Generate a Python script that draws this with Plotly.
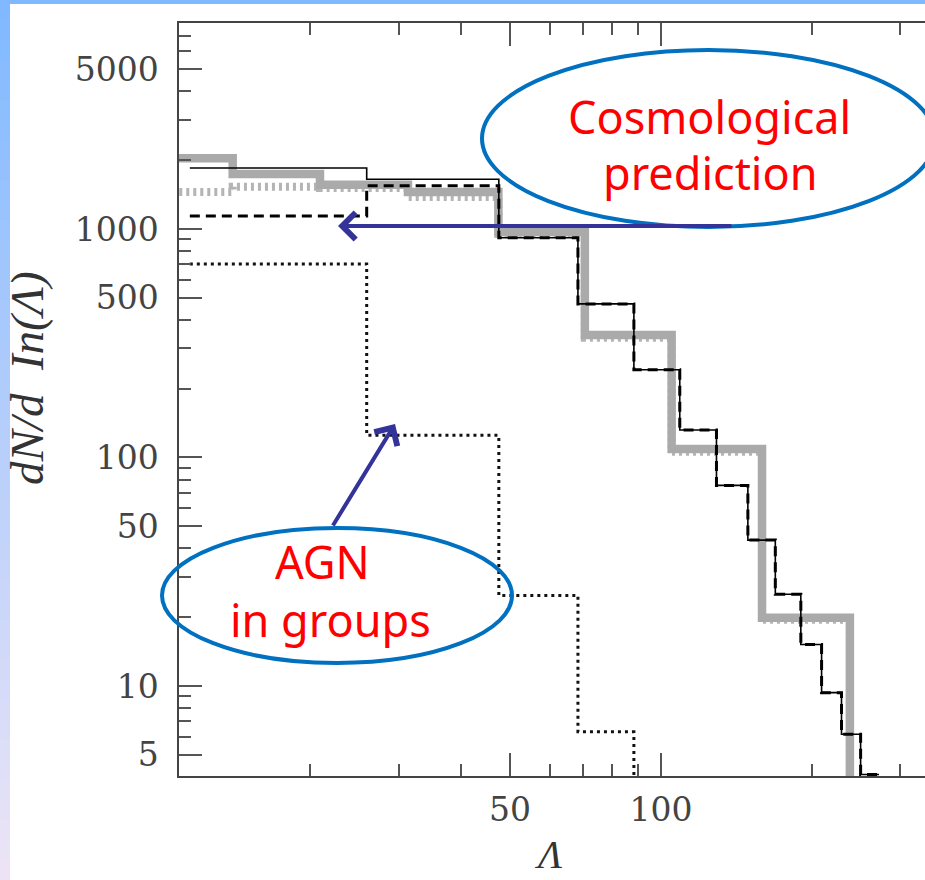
import plotly.graph_objects as go

# ---------------- data ----------------
black_edges = [11.5, 25.9, 47.5, 68.3, 88.3, 109, 129, 149, 169, 190, 209, 229, 250, 272]
solid_vals = [1850, 1650, 915, 470, 242, 132, 75.5, 43.5, 25.2, 15.2, 9.35, 6.15, 4.1]
dashed_vals = [1140, 1545, 915, 470, 242, 132, 75.5, 43.5, 25.2, 15.2, 9.35, 6.15, 4.1]

agn_edges = [11.5, 25.9, 47.5, 68.3, 88.3]
agn_vals = [703, 125, 24.9, 6.3]

gray_edges = [9.33, 14.0, 20.9, 31.3, 47.4, 70.5, 105, 159, 238]
gray_vals = [2040, 1740, 1560, 1450, 970, 344, 109, 19.9]
graydot_vals = [1450, 1530, 1510, 1380, 950, 334, 106, 19.5]

below_axis = 1.0  # histogram drops off the bottom of the axis

y_tickvals = [5, 10, 50, 100, 500, 1000, 5000]
y_ticktext = ["5", "10", "50", "100", "500", "1000", "5000"]
y_minor = [6, 7, 8, 9, 20, 30, 40, 60, 70, 80, 90, 200, 300, 400,
           600, 700, 800, 900, 2000, 3000, 4000, 6000, 7000]
x_tickvals = [50, 100]
x_ticktext = ["50", "100"]
x_minor = [20, 30, 40, 60, 70, 80, 90, 200, 300]


def step(edges, vals, drop=None):
    xs = list(edges)
    ys = list(vals) + [vals[-1]]
    if drop is not None:
        xs.append(edges[-1])
        ys.append(drop)
    return xs, ys


fig = go.Figure()

gx, gy = step(gray_edges, graydot_vals, below_axis)
fig.add_trace(go.Scatter(x=gx, y=gy, mode="lines", line_shape="hv",
                         line=dict(color="#b4b4b4", width=8, dash="3px,4px"),
                         showlegend=False, hoverinfo="skip"))
gx, gy = step(gray_edges, gray_vals, below_axis)
fig.add_trace(go.Scatter(x=gx, y=gy, mode="lines", line_shape="hv",
                         line=dict(color="#aaaaaa", width=8.5),
                         showlegend=False, hoverinfo="skip"))
bx, by = step(black_edges, solid_vals)
fig.add_trace(go.Scatter(x=bx, y=by, mode="lines", line_shape="hv",
                         line=dict(color="#000000", width=1.6),
                         showlegend=False, hoverinfo="skip"))
bx, by = step(black_edges, dashed_vals)
fig.add_trace(go.Scatter(x=bx, y=by, mode="lines", line_shape="hv",
                         line=dict(color="#000000", width=3, dash="10px,6px"),
                         showlegend=False, hoverinfo="skip"))
ax_, ay_ = step(agn_edges, agn_vals, below_axis)
fig.add_trace(go.Scatter(x=ax_, y=ay_, mode="lines", line_shape="hv",
                         line=dict(color="#111111", width=3, dash="3px,4px"),
                         showlegend=False, hoverinfo="skip"))

# ---------------- layout geometry ----------------
W, H = 925, 880
L, R, T, B = 179, 0, 23, 104
PW = W - L - R
PH = H - T - B


def px(x):
    return (x - L) / PW


def py(y):
    return (H - B - y) / PH


tickfont = dict(family="DejaVu Serif", size=33, color="#444444")
axcol = "#444444"
tkcol = "#555555"

fig.update_layout(
    width=W, height=H,
    margin=dict(l=L, r=R, t=T, b=B, pad=0),
    paper_bgcolor="white", plot_bgcolor="white",
    xaxis=dict(type="log", range=[1.0391, 2.5263], showgrid=False, zeroline=False,
               showline=True, linecolor=axcol, linewidth=1.5, mirror="ticks",
               ticks="inside", ticklen=23, tickwidth=1.5, tickcolor=tkcol,
               tickmode="array", tickvals=x_tickvals, ticktext=x_ticktext,
               tickfont=tickfont, ticklabelstandoff=4,
               minor=dict(ticks="inside", ticklen=12, tickwidth=1.5, tickcolor=tkcol,
                          tickmode="array", tickvals=x_minor, showgrid=False)),
    yaxis=dict(type="log", range=[0.6061, 3.9015], showgrid=False, zeroline=False,
               showline=True, linecolor=axcol, linewidth=1.5, mirror=False,
               ticks="inside", ticklen=23, tickwidth=1.5, tickcolor=tkcol,
               tickmode="array", tickvals=y_tickvals, ticktext=y_ticktext,
               tickfont=tickfont, ticklabelstandoff=12,
               minor=dict(ticks="inside", ticklen=12, tickwidth=1.5, tickcolor=tkcol,
                          tickmode="array", tickvals=y_minor, showgrid=False)),
    yaxis2=dict(type="log", range=[0.6061, 3.9015], overlaying="y", side="right",
                anchor="x", showgrid=False, zeroline=False, showline=False,
                showticklabels=False, ticks="inside", ticklen=15, tickwidth=1.5,
                tickcolor=tkcol, tickmode="array", tickvals=y_tickvals,
                minor=dict(ticks="inside", ticklen=8, tickwidth=1.5, tickcolor=tkcol,
                           tickmode="array", tickvals=y_minor, showgrid=False)),
    showlegend=False,
)

shapes = []
# slide background strips (left gradient and top band)
n = 44
c0 = (128, 185, 255)
c1 = (236, 228, 246)
for i in range(n):
    f = i / (n - 1)
    col = "rgb(%d,%d,%d)" % tuple(round(c0[k] + (c1[k] - c0[k]) * f) for k in range(3))
    y0p = H * i / n
    y1p = H * (i + 1) / n + 1
    shapes.append(dict(type="rect", xref="paper", yref="paper", layer="below",
                       x0=px(0), x1=px(10), y0=py(y1p), y1=py(y0p),
                       fillcolor=col, line=dict(width=0)))
shapes.append(dict(type="rect", xref="paper", yref="paper", layer="below",
                   x0=px(0), x1=px(W), y0=py(4), y1=py(0),
                   fillcolor="rgb(128,185,255)", line=dict(width=0)))
# callout ellipses
shapes.append(dict(type="circle", xref="paper", yref="paper",
                   x0=px(482), x1=px(935), y0=py(227), y1=py(50),
                   line=dict(color="#0070C0", width=4)))
shapes.append(dict(type="circle", xref="paper", yref="paper",
                   x0=px(162), x1=px(512), y0=py(663), y1=py(528),
                   line=dict(color="#0070C0", width=4)))
fig.update_layout(shapes=shapes)

red = dict(family="Noto Sans", size=45, color="#FF0000")
ann = []
for txt, cx, cy in [("Cosmological", 709, 116), ("prediction", 710, 172),
                    ("AGN", 322, 561), ("in groups", 330, 619)]:
    ann.append(dict(text=txt, x=px(cx), y=py(cy), xref="paper", yref="paper",
                    xanchor="center", yanchor="middle", showarrow=False, font=red))
# arrows
ann.append(dict(text="", x=px(338), y=py(226), xref="paper", yref="paper",
                ax=395, ay=0, showarrow=True, arrowhead=4, arrowsize=1.3,
                arrowwidth=4, arrowcolor="#333399"))
ann.append(dict(text="", x=px(395), y=py(424), xref="paper", yref="paper",
                ax=-63, ay=103, showarrow=True, arrowhead=4, arrowsize=1.3,
                arrowwidth=4, arrowcolor="#333399"))
# axis titles
ann.append(dict(text="<i>dN/d  In(Λ)</i>", x=px(27), y=py(378), xref="paper", yref="paper",
                xanchor="center", yanchor="middle", showarrow=False, textangle=-90,
                font=dict(family="Liberation Serif", size=47, color="#333333")))
ann.append(dict(text="<i>Λ</i>", x=px(548), y=py(879), xref="paper", yref="paper",
                xanchor="center", yanchor="bottom", showarrow=False,
                font=dict(family="Liberation Serif", size=40, color="#333333")))
fig.update_layout(annotations=ann)

fig.write_html("out.html")
